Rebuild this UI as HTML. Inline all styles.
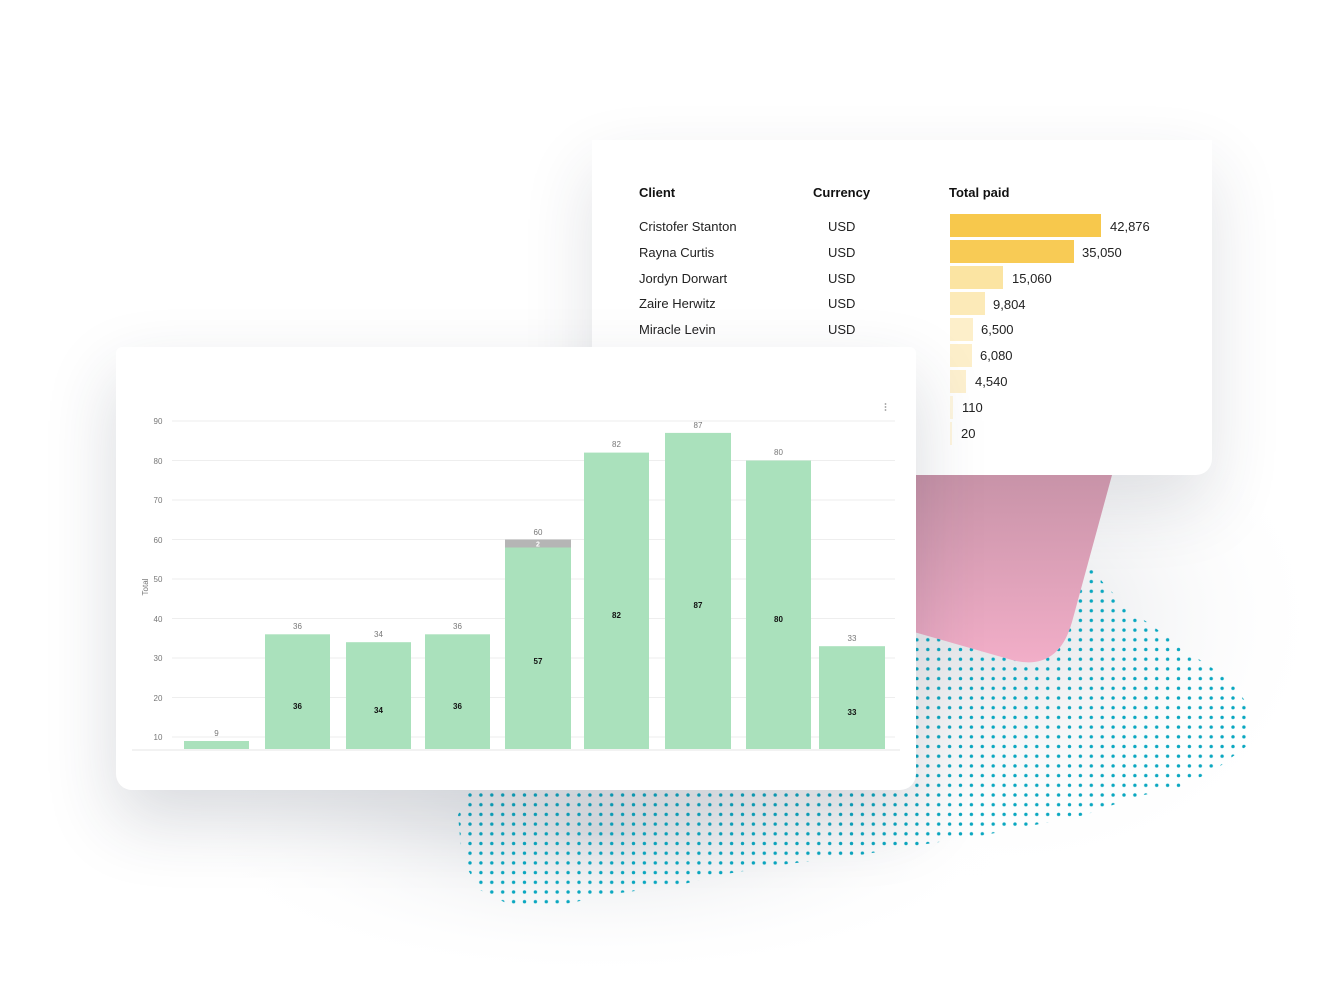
<!DOCTYPE html>
<html><head><meta charset="utf-8"><style>
html,body{margin:0;padding:0;background:#fff;}
body{width:1334px;height:1000px;position:relative;overflow:hidden;font-family:"Liberation Sans",sans-serif;}
.card{position:absolute;background:#fff;}
#tbl{left:592px;top:140px;width:620px;height:335px;border-radius:0 0 16px 16px;box-shadow:0 30px 70px rgba(40,50,70,0.14);z-index:1;}
#bg{position:absolute;left:0;top:0;z-index:0;}
#fg{position:absolute;left:0;top:0;z-index:2;}
#chart{left:116px;top:347px;width:800px;height:443px;border-radius:6px 6px 16px 16px;box-shadow:0 30px 70px rgba(40,50,70,0.18);z-index:3;}
#cs{position:absolute;left:0;top:0;z-index:4;}
</style></head><body>
<svg id="bg" width="1334" height="1000">
<defs>
<radialGradient id="sh" cx="0.5" cy="0.5" r="0.5"><stop offset="0" stop-color="#dfe1e5"/><stop offset="1" stop-color="#fff" stop-opacity="0"/></radialGradient>
</defs>
<ellipse cx="1000" cy="620" rx="330" ry="260" fill="url(#sh)"/>
<ellipse cx="600" cy="830" rx="420" ry="150" fill="url(#sh)"/>
</svg>
<div class="card" id="tbl">
<div style="position:absolute;left:47px;top:45px;font-weight:bold;font-size:13px;color:#111">Client</div>
<div style="position:absolute;left:221px;top:45px;font-weight:bold;font-size:13px;color:#111">Currency</div>
<div style="position:absolute;left:357px;top:45px;font-weight:bold;font-size:13px;color:#111">Total paid</div>
<div style="position:absolute;left:47px;top:74px;font-size:13px;color:#222;line-height:25.8px">Cristofer Stanton<br>Rayna Curtis<br>Jordyn Dorwart<br>Zaire Herwitz<br>Miracle Levin</div>
<div style="position:absolute;left:236px;top:74px;font-size:13px;color:#222;line-height:25.8px">USD<br>USD<br>USD<br>USD<br>USD</div>
</div>
<svg id="fg" width="1334" height="1000" style="z-index:2">
<defs>
<pattern id="dots" x="470" y="795" width="10.9" height="9.7" patternUnits="userSpaceOnUse">
<circle cx="0" cy="0" r="1.7" fill="#0aa7c0"/><circle cx="10.9" cy="0" r="1.7" fill="#0aa7c0"/><circle cx="0" cy="9.7" r="1.7" fill="#0aa7c0"/><circle cx="10.9" cy="9.7" r="1.7" fill="#0aa7c0"/>
</pattern>
<linearGradient id="pk" x1="0" y1="0" x2="0" y2="1"><stop offset="0" stop-color="#c893a8"/><stop offset="1" stop-color="#f2aec8"/></linearGradient></defs>
<path d="M1085,560 L1105,585 L1130,610 L1165,635 L1200,660 L1230,680 L1248,705 L1248,745 L1215,770 L1180,787 L1135,797 L1085,815 L985,835 L920,845 L860,855 L780,865 L720,875 L680,885 L620,893 L560,905 L510,905 L480,890 L462,860 L458,815 L470,790 L600,700 L900,600 Z" fill="url(#dots)"/>
<path d="M900,475 L1112,475 L1072,622 Q1058,672 1012,660 L900,628 Z" fill="url(#pk)"/>
<g font-family="Liberation Sans,sans-serif" font-size="13" fill="#222">
<rect x="950" y="214" width="151" height="23" fill="#f7c84c"/><text x="1110" y="231">42,876</text>
<rect x="950" y="240" width="124" height="23" fill="#f8cb55"/><text x="1082" y="257">35,050</text>
<rect x="950" y="266" width="53" height="23" fill="#fbe4a2"/><text x="1012" y="283">15,060</text>
<rect x="950" y="292" width="35" height="23" fill="#fceab8"/><text x="993" y="309">9,804</text>
<rect x="950" y="318" width="23" height="23" fill="#fdefca"/><text x="981" y="334">6,500</text>
<rect x="950" y="344" width="22" height="23" fill="#fdefca"/><text x="980" y="360">6,080</text>
<rect x="950" y="370" width="16" height="23" fill="#fdf0cf"/><text x="975" y="386">4,540</text>
<rect x="950" y="396" width="3" height="23" fill="#fef5df"/><text x="962" y="412">110</text>
<rect x="950" y="422" width="2" height="23" fill="#fef5df"/><text x="961" y="438">20</text>
</g>
</svg>
<div class="card" id="chart"></div>
<svg id="cs" width="1334" height="1000" font-family="Liberation Sans,sans-serif">
<g stroke="#eeeeee" stroke-width="1">
<line x1="172" y1="421" x2="895" y2="421"/><line x1="172" y1="460.5" x2="895" y2="460.5"/><line x1="172" y1="500" x2="895" y2="500"/><line x1="172" y1="539.5" x2="895" y2="539.5"/><line x1="172" y1="579" x2="895" y2="579"/><line x1="172" y1="618.5" x2="895" y2="618.5"/><line x1="172" y1="658" x2="895" y2="658"/><line x1="172" y1="697.5" x2="895" y2="697.5"/><line x1="172" y1="737" x2="895" y2="737"/>
<line x1="132" y1="750" x2="900" y2="750" stroke="#f2f2f2" stroke-width="2"/>
</g>
<g font-size="8" fill="#777" text-anchor="middle">
<text x="158" y="424">90</text><text x="158" y="464">80</text><text x="158" y="503">70</text><text x="158" y="543">60</text><text x="158" y="582">50</text><text x="158" y="622">40</text><text x="158" y="661">30</text><text x="158" y="701">20</text><text x="158" y="740">10</text>
<text transform="translate(148,587) rotate(-90)">Total</text>
</g>
<g fill="#aae1bc">
<rect x="184" y="741" width="65" height="8"/>
<rect x="265" y="634.3" width="65" height="114.7"/>
<rect x="346" y="642.2" width="65" height="106.8"/>
<rect x="425" y="634.3" width="65" height="114.7"/>
<rect x="505" y="547.4" width="66" height="201.6"/>
<rect x="584" y="452.6" width="65" height="296.4"/>
<rect x="665" y="432.9" width="66" height="316.1"/>
<rect x="746" y="460.5" width="65" height="288.5"/>
<rect x="819" y="646.2" width="66" height="102.8"/>
</g>
<rect x="505" y="539.5" width="66" height="8" fill="#b5b5b5"/>
<text x="538" y="546.5" font-size="7" font-weight="bold" fill="#fff" text-anchor="middle">2</text>
<g font-size="8" fill="#777" text-anchor="middle">
<text x="216.5" y="736">9</text><text x="297.5" y="629">36</text><text x="378.5" y="637">34</text><text x="457.5" y="629">36</text><text x="538" y="535">60</text><text x="616.5" y="447">82</text><text x="698" y="428">87</text><text x="778.5" y="455">80</text><text x="852" y="641">33</text>
</g>
<g font-size="8" font-weight="bold" fill="#111" text-anchor="middle">
<text x="297.5" y="709">36</text><text x="378.5" y="713">34</text><text x="457.5" y="709">36</text><text x="538" y="664">57</text><text x="616.5" y="618">82</text><text x="698" y="608">87</text><text x="778.5" y="622">80</text><text x="852" y="715">33</text>
</g>
<g fill="#999"><circle cx="885.5" cy="404" r="0.9"/><circle cx="885.5" cy="407" r="0.9"/><circle cx="885.5" cy="410" r="0.9"/></g>
</svg>
</body></html>
